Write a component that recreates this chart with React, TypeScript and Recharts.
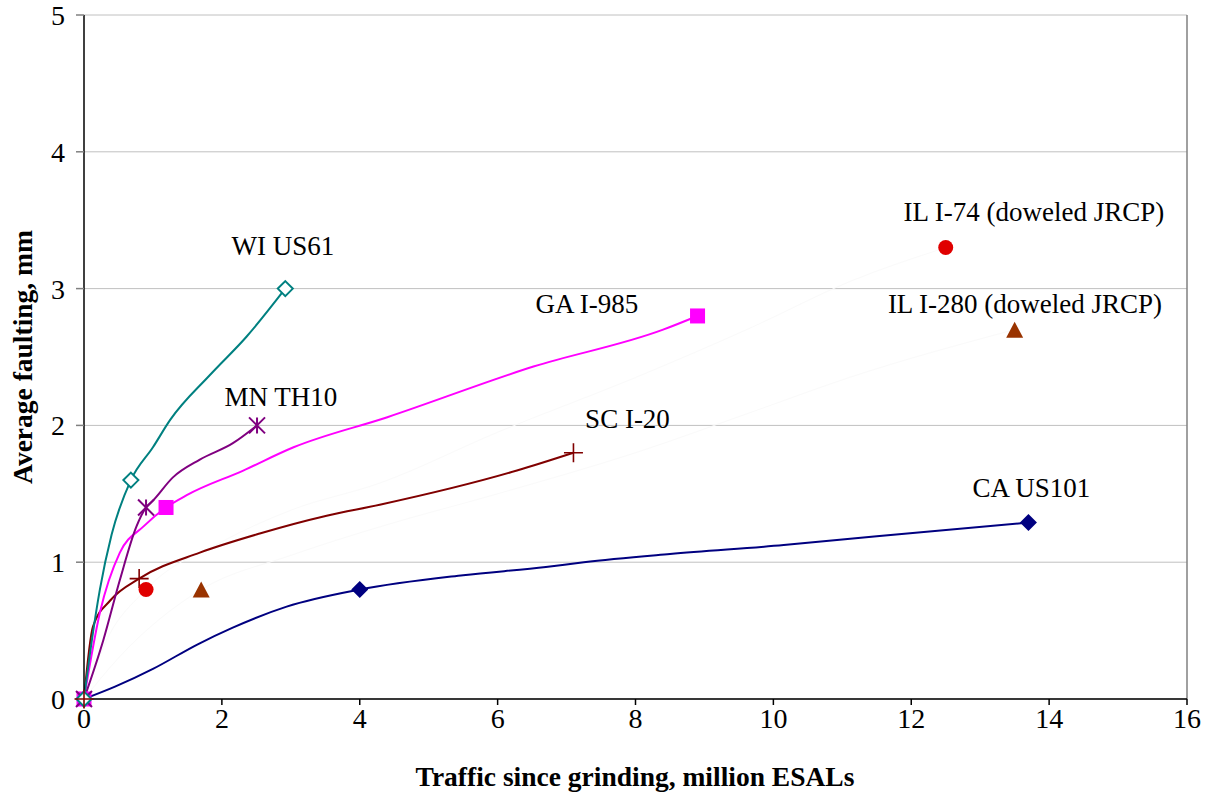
import { ComposedChart, Line, Scatter, XAxis, YAxis, CartesianGrid, ReferenceLine } from "recharts";

const xTicks = [0, 2, 4, 6, 8, 10, 12, 14, 16];
const yTicks = [0, 1, 2, 3, 4, 5];

// [traffic since grinding (million ESALs), average faulting (mm)]
const caPoints = [[0, 0], [4.0, 0.8], [13.7, 1.29]];
const caCurve = [[0, 0], [0.45, 0.09], [1.0, 0.22], [1.65, 0.4], [2.15, 0.52], [2.94, 0.675], [4.0, 0.8], [5.5, 0.905], [6.7, 0.965], [7.25, 1.0], [8.5, 1.06], [10.15, 1.125], [11.5, 1.19], [13.7, 1.29]];

const wiPoints = [[0, 0], [0.68, 1.6], [2.92, 3.0]];
const wiCurve = [[0, 0], [0.12, 0.45], [0.23, 0.8], [0.4, 1.2], [0.68, 1.6], [1.0, 1.84], [1.25, 2.04], [1.83, 2.37], [2.36, 2.65], [2.92, 3.0]];

const mnPoints = [[0, 0], [0.9, 1.4], [2.51, 2.0]];
const mnCurve = [[0, 0], [0.28, 0.43], [0.52, 0.87], [0.76, 1.26], [0.9, 1.4], [1.0, 1.45], [1.29, 1.62], [1.68, 1.75], [2.16, 1.87], [2.51, 2.0]];

const gaPoints = [[0, 0], [1.19, 1.4], [8.9, 2.8]];
const gaCurve = [[0, 0], [0.23, 0.63], [0.52, 1.07], [0.86, 1.26], [1.19, 1.4], [1.49, 1.49], [2.31, 1.67], [3.04, 1.84], [4.4, 2.06], [6.52, 2.43], [8.4, 2.7], [8.9, 2.8]];

const scPoints = [[0, 0], [0.8, 0.88], [7.1, 1.8]];
const scCurve = [[0, 0], [0.13, 0.53], [0.38, 0.72], [0.8, 0.88], [1.68, 1.07], [2.55, 1.21], [3.52, 1.34], [4.29, 1.42], [6.28, 1.67], [7.1, 1.8]];

const il74Points = [[0.9, 0.8], [12.5, 3.3]];
const il74Trend = [[0, 0], [0.3, 0.4], [0.9, 0.8], [2, 1.15], [3, 1.38], [4.3, 1.58], [6, 1.95], [8, 2.35], [9.7, 2.72], [11.1, 3.05], [12.5, 3.3]];

const il280Points = [[1.7, 0.8], [13.5, 2.7]];
const il280Trend = [[0, 0], [0.5, 0.3], [1.7, 0.8], [3, 1.05], [4.3, 1.26], [6, 1.5], [8, 1.8], [9.7, 2.1], [11.1, 2.35], [13.5, 2.7]];

const sectionNames = ["WI US61", "MN TH10", "GA I-985", "SC I-20", "CA US101", "IL I-74 (doweled JRCP)", "IL I-280 (doweled JRCP)"];
// where each name sits, in axis units (text baseline, centred)
const nameAnchors = [[2.886, 3.246], [2.857, 2.142], [7.296, 2.822], [7.884, 1.981], [13.744, 1.479], [13.78, 3.494], [13.65, 2.822]];

const toRows = (pts: number[][]) => pts.map(([x, y]) => ({ x, y }));

const FONT = "Liberation Serif, Times New Roman, serif";

type P = { cx?: number; cy?: number; payload?: any };

const filledDiamond = (color: string, r: number) => ({ cx = 0, cy = 0 }: P) => (
  <path d={`M${cx},${cy - r}L${cx + r},${cy}L${cx},${cy + r}L${cx - r},${cy}Z`} fill={color} />
);
const openDiamond = (color: string, r: number) => ({ cx = 0, cy = 0 }: P) => (
  <path d={`M${cx},${cy - r}L${cx + r},${cy}L${cx},${cy + r}L${cx - r},${cy}Z`} fill="#fff" stroke={color} strokeWidth={2} />
);
const square = (color: string, s: number) => ({ cx = 0, cy = 0 }: P) => (
  <rect x={cx - s / 2} y={cy - s / 2} width={s} height={s} fill={color} />
);
const star = (color: string, r: number) => ({ cx = 0, cy = 0 }: P) => (
  <path
    d={`M${cx - r},${cy - r}L${cx + r},${cy + r}M${cx - r},${cy + r}L${cx + r},${cy - r}M${cx},${cy - r}L${cx},${cy + r}`}
    stroke={color}
    strokeWidth={2}
  />
);
const plus = (color: string, r: number) => ({ cx = 0, cy = 0 }: P) => (
  <path d={`M${cx - r},${cy}L${cx + r},${cy}M${cx},${cy - r}L${cx},${cy + r}`} stroke={color} strokeWidth={1.6} />
);
const dot = (color: string, r: number) => ({ cx = 0, cy = 0 }: P) => <circle cx={cx} cy={cy} r={r} fill={color} />;
const triangle = (color: string, w: number, h: number) => ({ cx = 0, cy = 0 }: P) => (
  <path d={`M${cx},${cy - h / 2}L${cx + w / 2},${cy + h / 2}L${cx - w / 2},${cy + h / 2}Z`} fill={color} />
);

const nameLabel = ({ cx = 0, cy = 0, payload }: P) => (
  <text x={cx} y={cy} textAnchor="middle" style={{ fontFamily: FONT, fontSize: 27 }} fill="#000">
    {payload.text}
  </text>
);

const XTick = ({ x, y, payload }: any) => (
  <text x={x} y={y + 21} textAnchor="middle" style={{ fontFamily: FONT, fontSize: 28 }} fill="#000">
    {payload.value}
  </text>
);

const YTick = ({ x, y, payload }: any) => (
  <text x={x} y={y + 10} textAnchor="end" style={{ fontFamily: FONT, fontSize: 28 }} fill="#000">
    {payload.value}
  </text>
);

const curve = (rows: number[][], color: string, width = 2) => (
  <Line
    data={toRows(rows)}
    dataKey="y"
    type="monotone"
    stroke={color}
    strokeWidth={width}
    dot={false}
    activeDot={false}
    isAnimationActive={false}
  />
);

const marks = (rows: number[][], shape: any) => (
  <Scatter data={toRows(rows)} dataKey="y" shape={shape} isAnimationActive={false} />
);

export default function App() {
  const labelRows = sectionNames.map((text, i) => ({ x: nameAnchors[i][0], y: nameAnchors[i][1], text }));

  return (
    <div style={{ position: "absolute", left: 0, top: 0, background: "#fff", fontFamily: FONT }}>
      <ComposedChart width={1210} height={799} margin={{ top: 15, right: 23, left: 0, bottom: 0 }}>
        <CartesianGrid horizontal vertical={false} stroke="#c0c0c0" strokeWidth={1} />
        <XAxis
          type="number"
          dataKey="x"
          domain={[0, 16]}
          ticks={xTicks}
          height={100}
          stroke="#000"
          strokeWidth={1.5}
          tickSize={6}
          tickMargin={2}
          tick={<XTick />}
          label={{
            content: () => (
              <text x={635} y={786} textAnchor="middle" style={{ fontFamily: FONT, fontSize: 27.5, fontWeight: "bold" }} fill="#000">
                Traffic since grinding, million ESALs
              </text>
            ),
          }}
        />
        <YAxis
          type="number"
          dataKey="y"
          domain={[0, 5]}
          ticks={yTicks}
          width={84}
          stroke="#000"
          strokeWidth={1.5}
          tickSize={8}
          tickMargin={11}
          tickLine={{ stroke: "#808080" }}
          tick={<YTick />}
          label={{
            content: () => (
              <text
                x={32}
                y={357}
                transform="rotate(-90 32 357)"
                textAnchor="middle"
                style={{ fontFamily: FONT, fontSize: 27.5, fontWeight: "bold" }}
                fill="#000"
              >
                Average faulting, mm
              </text>
            ),
          }}
        />
        <ReferenceLine x={16} stroke="#808080" strokeWidth={1.5} />

        {/* barely-there trend lines for the two doweled sections */}
        {curve(il74Trend, "#fafafa", 1)}
        {curve(il280Trend, "#fafafa", 1)}
        {curve(caCurve, "#000080")}
        {curve(scCurve, "#800000")}
        {curve(gaCurve, "#ff00ff")}
        {curve(mnCurve, "#800080")}
        {curve(wiCurve, "#008080")}

        {marks(caPoints, filledDiamond("#000080", 8.5))}
        {marks(gaPoints, square("#ff00ff", 15))}
        {marks(mnPoints, star("#800080", 8))}
        {marks(wiPoints, openDiamond("#008080", 7.5))}
        {marks(scPoints, plus("#800000", 9.5))}
        {marks(il74Points, dot("#e00000", 7.5))}
        {marks(il280Points, triangle("#993300", 17, 16))}

        <Scatter data={labelRows} dataKey="y" shape={nameLabel} isAnimationActive={false} />
      </ComposedChart>
    </div>
  );
}
